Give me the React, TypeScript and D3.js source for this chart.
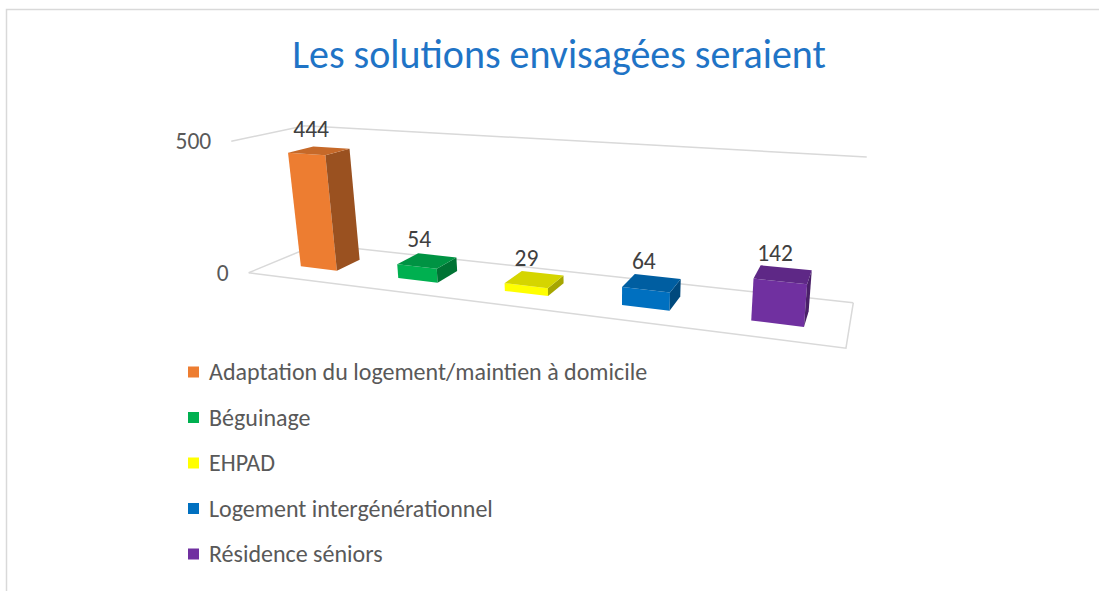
import React from "react";
import * as d3 from "d3";

const title = "Les solutions envisagées seraient";
const categories = [
  "Adaptation du logement/maintien à domicile",
  "Béguinage",
  "EHPAD",
  "Logement intergénérationnel",
  "Résidence séniors",
];
const values = [444, 54, 29, 64, 142];
const colors = ["#ED7D31", "#00B050", "#FFFF00", "#0070C0", "#7030A0"];
const yTicks = [0, 500];

const W = 1099;
const H = 591;
const FONT = "Carlito, Calibri, Lato, sans-serif";

// screen anchors of the 3D plot box corners (world x,y,z in [0,1])
const boxAnchors: { w: [number, number, number]; s: [number, number] }[] = [
  { w: [0, 0, 0], s: [247, 273] },
  { w: [1, 0, 0], s: [846, 348] },
  { w: [1, 0, 1], s: [853, 303] },
  { w: [0, 0, 1], s: [319, 244] },
  { w: [0, 1, 1], s: [303, 126] },
  { w: [1, 1, 1], s: [867, 157] },
  { w: [0, 1, 0], s: [233, 141] },
];

function solveLinear(A: number[][], b: number[]): number[] {
  const n = b.length;
  const M = A.map((r, i) => [...r, b[i]]);
  for (let c = 0; c < n; c++) {
    let p = c;
    for (let r = c + 1; r < n; r++) if (Math.abs(M[r][c]) > Math.abs(M[p][c])) p = r;
    [M[c], M[p]] = [M[p], M[c]];
    for (let r = 0; r < n; r++) {
      if (r === c) continue;
      const f = M[r][c] / M[c][c];
      for (let k = c; k <= n; k++) M[r][k] -= f * M[c][k];
    }
  }
  return M.map((r, i) => r[n] / r[i]);
}

function fitProjection(anchors: typeof boxAnchors) {
  const rows: number[][] = [];
  const rhs: number[] = [];
  anchors.forEach(({ w: [X, Y, Z], s: [u, v] }) => {
    rows.push([X, Y, Z, 1, 0, 0, 0, 0, -u * X, -u * Y, -u * Z]);
    rhs.push(u);
    rows.push([0, 0, 0, 0, X, Y, Z, 1, -v * X, -v * Y, -v * Z]);
    rhs.push(v);
  });
  const N: number[][] = [];
  const t: number[] = [];
  for (let i = 0; i < 11; i++) {
    N.push([]);
    let s = 0;
    for (let j = 0; j < 11; j++) {
      let a = 0;
      for (let r = 0; r < rows.length; r++) a += rows[r][i] * rows[r][j];
      N[i].push(a);
    }
    for (let r = 0; r < rows.length; r++) s += rows[r][i] * rhs[r];
    t.push(s);
  }
  const p = solveLinear(N, t);
  return (X: number, Y: number, Z: number): [number, number] => {
    const w = p[8] * X + p[9] * Y + p[10] * Z + 1;
    return [
      (p[0] * X + p[1] * Y + p[2] * Z + p[3]) / w,
      (p[4] * X + p[5] * Y + p[6] * Z + p[7]) / w,
    ];
  };
}

const proj = fitProjection(boxAnchors);

export default function App() {
  const xScale = d3
    .scaleBand<string>()
    .domain(categories)
    .range([0, 1])
    .paddingInner(0.62)
    .paddingOuter(0.31);
  const yScale = d3.scaleLinear().domain([0, 500]).range([0, 1]);
  const zFront = 0.32;
  const zBack = 0.68;

  const line = d3.line<[number, number]>();
  const poly = (pts: [number, number, number][]) =>
    line(pts.map((p) => proj(p[0], p[1], p[2]))) + "Z";

  const gridLines: [number, number, number][][] = [];
  yTicks.forEach((t) => {
    const y = yScale(t);
    gridLines.push([[0, y, 0], [0, y, 1], [1, y, 1]]);
  });
  gridLines.push([[0, 0, 0], [1, 0, 0], [1, 0, 1]]);

  return (
    <svg
      width={W}
      height={H}
      style={{ position: "absolute", left: 0, top: 0, display: "block" }}
      fontFamily={FONT}
    >
      <rect x={0} y={0} width={W} height={H} fill="#fff" />
      <rect x={6.5} y={9.5} width={W + 50} height={H + 50} fill="none" stroke="#D9D9D9" strokeWidth={1.5} />
      <text x={559} y={68} textAnchor="middle" fontSize={40} fill="#1F74C6">
        {title}
      </text>
      {gridLines.map((g, i) => (
        <path key={i} d={line(g.map((p) => proj(p[0], p[1], p[2])))!} fill="none" stroke="#D9D9D9" strokeWidth={1.5} />
      ))}
      {yTicks.map((t) => {
        const [u, v] = proj(0, yScale(t), 0);
        return (
          <text key={t} x={u - 20} y={v} dy="0.35em" textAnchor="end" fontSize={23.5} fill="#595959">
            {t}
          </text>
        );
      })}
      {categories.map((c, i) => {
        const x0 = xScale(c)!;
        const x1 = x0 + xScale.bandwidth();
        const y1 = yScale(values[i]);
        const base = d3.color(colors[i])!;
        const top = base.darker(0.5).formatHex();
        const side = base.darker(1.2).formatHex();
        return (
          <g key={c}>
            <path d={poly([[x0, 0, zFront], [x1, 0, zFront], [x1, y1, zFront], [x0, y1, zFront]])} fill={colors[i]} />
            <path d={poly([[x1, 0, zFront], [x1, 0, zBack], [x1, y1, zBack], [x1, y1, zFront]])} fill={side} />
            <path d={poly([[x0, y1, zFront], [x1, y1, zFront], [x1, y1, zBack], [x0, y1, zBack]])} fill={top} />
          </g>
        );
      })}
      {categories.map((c, i) => {
        const xc = xScale(c)! + xScale.bandwidth() / 2;
        const [u, v] = proj(xc, yScale(values[i]), (zFront + zBack) / 2);
        return (
          <text key={c} x={u - 8} y={v - 22} dy="0.35em" textAnchor="middle" fontSize={23.5} fill="#404040">
            {values[i]}
          </text>
        );
      })}
      {categories.map((c, i) => {
        const cy = 372 + i * 45.5;
        return (
          <g key={c}>
            <rect x={188} y={cy - 5.5} width={11} height={11} fill={colors[i]} />
            <text x={209} y={cy} dy="0.35em" fontSize={24} fill="#595959">
              {c}
            </text>
          </g>
        );
      })}
    </svg>
  );
}
